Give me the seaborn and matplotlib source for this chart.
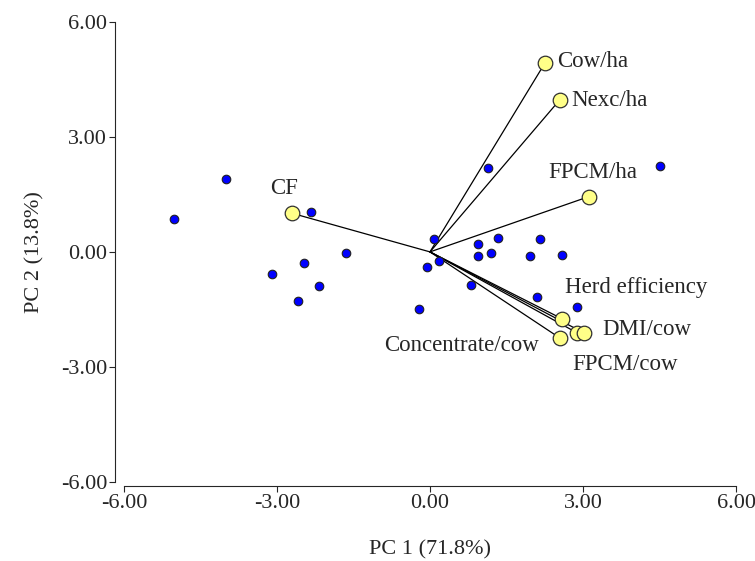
import seaborn as sns
import pandas as pd
import matplotlib.pyplot as plt

# PCA scores (farms)
score_pc1 = [-5.01, -3.99, -2.34, -1.64, -2.46, -3.10, -2.18, -2.58, -0.22, -0.05,
             0.08, 0.17, 1.13, 0.95, 0.95, 1.19, 1.33, 0.81, 1.96, 2.16,
             2.59, 2.09, 2.88, 4.50]
score_pc2 = [0.87, 1.90, 1.04, -0.03, -0.28, -0.57, -0.89, -1.29, -1.49, -0.40,
             0.33, -0.25, 2.18, 0.21, -0.12, -0.03, 0.37, -0.86, -0.12, 0.34,
             -0.09, -1.17, -1.43, 2.24]

# loadings (variables)
var_names = ["Cow/ha", "Nexc/ha", "FPCM/ha", "CF", "Herd efficiency",
             "FPCM/cow", "DMI/cow", "Concentrate/cow"]
load_pc1 = [2.25, 2.54, 3.11, -2.71, 2.58, 2.88, 3.01, 2.55]
load_pc2 = [4.92, 3.96, 1.44, 1.01, -1.74, -2.11, -2.11, -2.25]

# label offsets in pixels (dx, dy, ha)
label_pos = {
    "Cow/ha": (12, 2, "left"),
    "Nexc/ha": (12, 0, "left"),
    "FPCM/ha": (4, 24, "center"),
    "CF": (-8, 25, "center"),
    "Herd efficiency": (3, 31, "left"),
    "FPCM/cow": (-5, -32, "left"),
    "DMI/cow": (19, 3, "left"),
    "Concentrate/cow": (-21, -7, "right"),
}

scores = pd.DataFrame({"pc1": score_pc1, "pc2": score_pc2})
loads = pd.DataFrame({"name": var_names, "pc1": load_pc1, "pc2": load_pc2})

sns.set_style("ticks")
plt.rcParams["font.family"] = ["Liberation Serif", "DejaVu Serif"]
plt.rcParams["font.size"] = 16

fig = plt.figure(figsize=(7.55, 5.61), dpi=100)
ax = fig.add_axes([0.164, 0.141, 0.811, 0.820])

for _, r in loads.iterrows():
    ax.plot([0, r.pc1], [0, r.pc2], color="black", lw=0.9, zorder=1)

sns.scatterplot(data=scores, x="pc1", y="pc2", ax=ax, color="#0000ff",
                edgecolor="#202020", linewidth=0.8, s=38, zorder=2)
sns.scatterplot(data=loads, x="pc1", y="pc2", ax=ax, color="#ffff88",
                edgecolor="#303030", linewidth=0.9, s=110, zorder=3)

for _, r in loads.iterrows():
    dx, dy, ha = label_pos[r["name"]]
    ax.annotate(r["name"], (r.pc1, r.pc2), xytext=(dx * 0.72, dy * 0.72),
                textcoords="offset points", ha=ha, va="center", fontsize=16.5)

ax.set_xlim(-6, 6)
ax.set_ylim(-6, 6)
ticks = [-6, -3, 0, 3, 6]
ax.set_xticks(ticks)
ax.set_yticks(ticks)
ax.set_xticklabels([f"{t:.2f}" for t in ticks])
ax.set_yticklabels([f"{t:.2f}" for t in ticks])
ax.tick_params(length=4, width=0.8, labelsize=16, pad=2)
ax.set_xlabel("PC 1 (71.8%)", fontsize=16, labelpad=19)
ax.set_ylabel("PC 2 (13.8%)", fontsize=16, labelpad=12)
sns.despine(ax=ax)
ax.spines["left"].set_position(("outward", 6))
ax.spines["bottom"].set_position(("outward", 3))
for sp in ["left", "bottom"]:
    ax.spines[sp].set_linewidth(0.8)

fig.savefig("out.png", dpi=100)
